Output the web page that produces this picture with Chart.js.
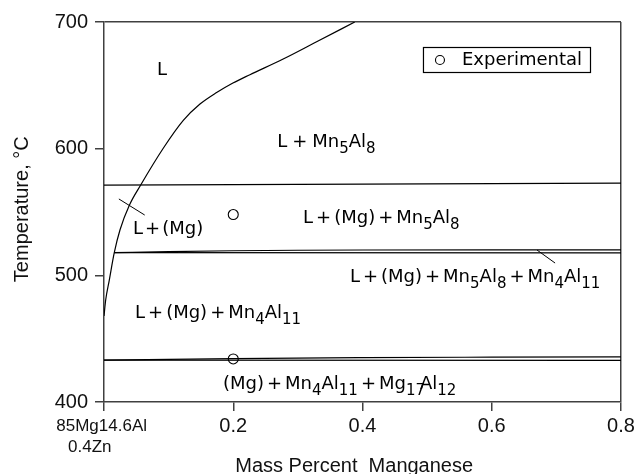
<!DOCTYPE html>
<html>
<head>
<meta charset="utf-8">
<script src="https://cdn.jsdelivr.net/npm/chart.js@4/dist/chart.umd.min.js"></script>
<style>
  html, body { margin: 0; padding: 0; background: #fff; }
  canvas { display: block; }
</style>
</head>
<body>
<canvas id="chart" width="636" height="474"></canvas>
<script>
// Isopleth of 85Mg-14.6Al-0.4Zn with manganese additions

// Liquidus boundary (L / L + Mn5Al8 and L / L + (Mg))
const liquidusMn = [0, 0.0026, 0.0082, 0.0159, 0.0247, 0.0394, 0.0568, 0.0917, 0.1227, 0.1485, 0.1743, 0.1995, 0.2258, 0.2773, 0.329, 0.388];
const liquidusT  = [467.9, 480.5, 496.3, 517.9, 535.8, 555.5, 571.3, 600.3, 622.3, 635.2, 644.3, 651.8, 658.4, 670.8, 684.4, 700];

// Start of (Mg) solidification
const mgStartMn = [0, 0.8];
const mgStartT  = [571.2, 572.8];

// Pair of boundaries bounding the thin L + (Mg) + Mn5Al8 + Mn4Al11 field
const upper4Mn = [0.0159, 0.1, 0.2, 0.3, 0.4, 0.8];
const upper4T  = [517.9, 518.7, 519.4, 519.8, 520, 520.1];
const lower4Mn = [0.0159, 0.8];
const lower4T  = [517.9, 517.7];

// Solidus pair near the Mg17Al12 reaction
const upperSolMn = [0, 0.2, 0.4, 0.6, 0.8];
const upperSolT  = [433, 434.3, 435, 435.4, 435.7];
const lowerSolMn = [0, 0.8];
const lowerSolT  = [433, 432.9];

// Leader lines pointing at narrow fields
const leaderAMn = [0.023, 0.063];
const leaderAT  = [560.3, 547.6];
const leaderBMn = [0.670, 0.698];
const leaderBT  = [520.0, 509.7];

// Measured points
const expMn = [0.2, 0.2];
const expT  = [548, 434];

// Axis ticks
const xTicks = [0, 0.2, 0.4, 0.6, 0.8];
const xTickLabels = [['85Mg14.6Al ', '0.4Zn      '], '0.2', '0.4', '0.6', '0.8'];
const yTicks = [400, 500, 600, 700];

// Phase field labels anchored at (Mn, T).
// Piece kinds: 0 text, 1 subscript, 2 padded plus sign, 3 kerning shift (px)
const fieldLabels = [
  { mn: 0.082, t: 658.2, pad: 3, parts: [['L', 0]] },
  { mn: 0.268, t: 601.3, pad: 5, parts: [['L', 0], ['+', 2], ['Mn', 0], ['5', 1], ['Al', 0], ['8', 1]] },
  { mn: 0.045, t: 532.6, pad: 2, parts: [['L', 0], ['+', 2], ['(Mg)', 0]] },
  { mn: 0.308, t: 541.3, pad: 3, parts: [['L', 0], ['+', 2], ['(Mg)', 0], ['+', 2], ['Mn', 0], ['5', 1], ['Al', 0], ['8', 1]] },
  { mn: 0.3805, t: 494.7, pad: 3, parts: [['L', 0], ['+', 2], ['(Mg)', 0], ['+', 2], ['Mn', 0], ['5', 1], ['Al', 0], ['8', 1], ['+', 2], ['Mn', 0], ['4', 1], ['Al', 0], ['11', 1]] },
  { mn: 0.048, t: 466.3, pad: 3, parts: [['L', 0], ['+', 2], ['(Mg)', 0], ['+', 2], ['Mn', 0], ['4', 1], ['Al', 0], ['11', 1]] },
  { mn: 0.184, t: 410.3, pad: 3, parts: [['(Mg)', 0], ['+', 2], ['Mn', 0], ['4', 1], ['Al', 0], ['11', 1], ['+', 2], ['Mg', 0], ['17', 1], [-5, 3], ['Al', 0], ['12', 1]] }
];

const legendText = 'Experimental';

const AXIS_FONT = '"Liberation Sans", Arial, sans-serif';
const LABEL_FONT = '"DejaVu Sans", sans-serif';
const FRAME = '#404040';

function pts(xs, ys) { return xs.map((x, i) => ({ x: x, y: ys[i] })); }

function curve(xs, ys, extra) {
  return Object.assign({
    data: pts(xs, ys),
    showLine: true,
    borderColor: '#000',
    borderWidth: 1.2,
    pointRadius: 0,
    pointHoverRadius: 0,
    fill: false
  }, extra || {});
}

const datasets = [
  curve(liquidusMn, liquidusT, { cubicInterpolationMode: 'monotone' }),
  curve(mgStartMn, mgStartT),
  curve(upper4Mn, upper4T, { cubicInterpolationMode: 'monotone' }),
  curve(lower4Mn, lower4T),
  curve(upperSolMn, upperSolT, { cubicInterpolationMode: 'monotone' }),
  curve(lowerSolMn, lowerSolT),
  curve(leaderAMn, leaderAT, { borderWidth: 1 }),
  curve(leaderBMn, leaderBT, { borderWidth: 1 }),
  {
    label: legendText,
    data: pts(expMn, expT),
    showLine: false,
    pointStyle: 'circle',
    pointRadius: 5,
    pointBorderWidth: 1.1,
    pointBorderColor: '#000',
    pointBackgroundColor: '#fff'
  }
];

const fieldLabelPlugin = {
  id: 'fieldLabels',
  afterDatasetsDraw(chart) {
    const { ctx, scales: { x, y }, chartArea } = chart;
    ctx.save();
    ctx.fillStyle = '#000';
    ctx.textBaseline = 'alphabetic';
    ctx.textAlign = 'left';
    fieldLabels.forEach(lab => {
      let px = x.getPixelForValue(lab.mn);
      const py = y.getPixelForValue(lab.t);
      lab.parts.forEach(([txt, kind]) => {
        if (kind === 3) { px += txt; return; }
        ctx.font = (kind === 1 ? '15px ' : '18px ') + LABEL_FONT;
        if (kind === 2) px += lab.pad;
        ctx.fillText(txt, px, kind === 1 ? py + 6 : py);
        px += ctx.measureText(txt).width;
        if (kind === 2) px += lab.pad;
      });
    });

    // Legend box in the upper right of the plot
    ctx.font = '18px ' + LABEL_FONT;
    const tw = ctx.measureText(legendText).width;
    const boxW = tw + 47;
    const boxH = 25;
    const bx = chartArea.right - 31 - boxW;
    const by = chartArea.top + 25;
    ctx.lineWidth = 1.2;
    ctx.strokeStyle = '#000';
    ctx.strokeRect(bx + 0.5, by + 0.5, boxW, boxH);
    ctx.beginPath();
    ctx.arc(bx + 17, by + boxH / 2 + 0.5, 4.5, 0, Math.PI * 2);
    ctx.fillStyle = '#fff';
    ctx.fill();
    ctx.lineWidth = 1.1;
    ctx.stroke();
    ctx.fillStyle = '#000';
    ctx.textBaseline = 'middle';
    ctx.fillText(legendText, bx + 39, by + boxH / 2 + 1);
    ctx.restore();
  }
};

new Chart(document.getElementById('chart'), {
  type: 'scatter',
  data: { datasets: datasets },
  plugins: [fieldLabelPlugin],
  options: {
    responsive: false,
    animation: false,
    devicePixelRatio: 1,
    layout: { padding: { top: 22, right: 15, bottom: 0, left: 0 } },
    plugins: { legend: { display: false }, tooltip: { enabled: false } },
    scales: {
      x: {
        type: 'linear',
        min: 0,
        max: 0.8,
        afterBuildTicks: s => { s.ticks = xTicks.map(v => ({ value: v })); },
        afterFit: s => { s.height = 72; s.paddingLeft = 0; s.paddingRight = 0; },
        ticks: {
          autoSkip: false,
          maxRotation: 0,
          minRotation: 0,
          padding: 5,
          color: '#111',
          callback: (v) => xTickLabels[xTicks.indexOf(v)],
          font: (c) => (c.tick && c.tick.value === 0)
            ? { family: AXIS_FONT, size: 17, lineHeight: '21px' }
            : { family: AXIS_FONT, size: 20, lineHeight: 1 }
        },
        grid: {
          drawOnChartArea: true,
          color: (c) => (c.tick && c.tick.value === 0.8) ? FRAME : 'rgba(0,0,0,0)',
          tickColor: FRAME,
          lineWidth: 1.5,
          tickLength: 9
        },
        border: { display: true, color: FRAME, width: 1.5 },
        title: {
          display: true,
          text: 'Mass Percent  Manganese   ',
          color: '#111',
          font: { family: AXIS_FONT, size: 20, lineHeight: 1 },
          padding: { top: 0, bottom: -2 }
        }
      },
      y: {
        type: 'linear',
        min: 400,
        max: 700,
        afterBuildTicks: s => { s.ticks = yTicks.map(v => ({ value: v })); },
        afterFit: s => { s.width = 104; s.paddingTop = 0; s.paddingBottom = 0; },
        ticks: {
          padding: 7,
          color: '#111',
          font: { family: AXIS_FONT, size: 20 }
        },
        grid: {
          drawOnChartArea: true,
          color: (c) => (c.tick && c.tick.value === 700) ? FRAME : 'rgba(0,0,0,0)',
          tickColor: FRAME,
          lineWidth: 1.5,
          tickLength: 9
        },
        border: { display: true, color: FRAME, width: 1.5 },
        title: {
          display: true,
          text: ' Temperature, °C',
          color: '#111',
          font: { family: AXIS_FONT, size: 20, lineHeight: 1 },
          padding: { top: 12, bottom: 0 }
        }
      }
    }
  }
});
</script>
</body>
</html>
